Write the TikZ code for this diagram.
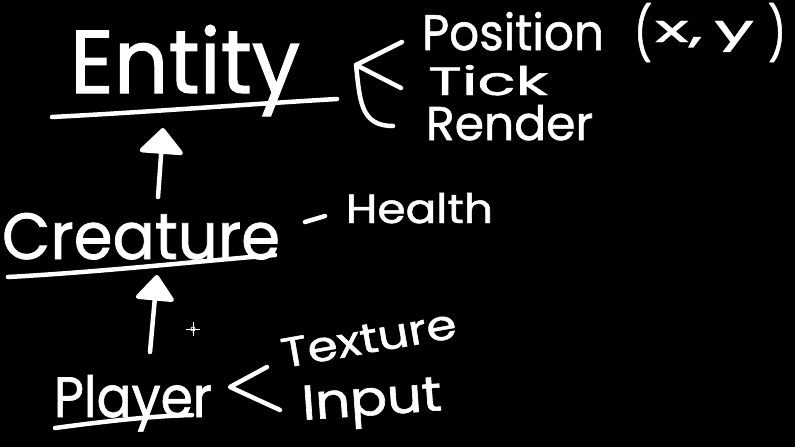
\documentclass[tikz,border=0pt]{standalone}
\usepackage{fontspec}
\setmainfont{Poppins}
\newfontfamily\chalkfont{Poppins}[FakeBold=1.2]
\usepackage{graphicx}
\usetikzlibrary{arrows.meta}
\newcommand{\chalktext}[3]{\resizebox{#1pt}{#2pt}{\chalkfont #3}}
\newcommand{\bigparen}[1]{\raisebox{-20pt}{\resizebox*{18pt}{59pt}{\raisebox{\depth}{\chalkfont #1}}}}
\begin{document}
\begin{tikzpicture}[x=1pt,y=-1pt,
  chalk/.style={draw=white, line width=4.5pt, line cap=round, line join=round},
  word/.style={anchor=base west, inner sep=0pt, outer sep=0pt, text=white},
  bigarrow/.style={chalk, -{Triangle[width=#1, length=27pt, round]}},
  bigarrow/.default=46pt]
\useasboundingbox (0,0) rectangle (795,447);
\fill[black] (0,0) rectangle (795,447);

% main class names
\node[word] (entity)   at (70,93)  {\chalktext{230}{68}{Entity}};
\node[word] (creature) at (2,259)  {\chalktext{278}{46}{Creature}};
\node[word] (player)   at (54,417) {\chalktext{158}{42}{Player}};

% underlines
\coordinate (eu1) at (52,117);  \coordinate (eu2) at (337,99);
\coordinate (cu1) at (8,277);   \coordinate (cu2) at (275,255);
\coordinate (pu1) at (55,428);  \coordinate (pu2) at (192,415);
\draw[chalk] (eu1) .. controls (150,112) and (250,104) .. (eu2);
\draw[chalk] (cu1) .. controls (100,272) and (190,262) .. (cu2);
\draw[chalk] (pu1) .. controls (100,422) and (150,416) .. (pu2);

% inheritance arrows
\coordinate (a1s) at (158,197); \coordinate (a1t) at (163,128);
\coordinate (a2s) at (150,352); \coordinate (a2t) at (157,275);
\draw[bigarrow=48pt] (a1s) -- (a1t);
\draw[bigarrow=42pt] (a2s) -- (a2t);

% Entity members
\coordinate (eb0) at (356,65); \coordinate (eb1) at (402,42);
\coordinate (eb2) at (401,88); \coordinate (eb3) at (393,126);
\draw[chalk] (eb1) -- (eb0) -- (eb2);
\draw[chalk] (eb0) .. controls (360,100) and (360,126) .. (eb3);
\node[word] (position) at (422,50) {\chalktext{182}{38}{Position}};
\node[word] (xy)       at (634,42) {\bigparen{(}\hspace{3pt}\chalktext{99}{21}{x,\,y}\hspace{14pt}\bigparen{)}};
\node[word] (tick)     at (428,95) {\chalktext{120}{30}{Tick}};
\node[word] (render)   at (426,140){\chalktext{167}{35}{Render}};

% Creature member
\coordinate (hd1) at (305,222); \coordinate (hd2) at (325,216);
\draw[chalk] (hd1) -- (hd2);
\node[word] (health) at (346,223) {\chalktext{147}{30}{Health}};

% Player members
\coordinate (pb0) at (230,387); \coordinate (pb1) at (267,367);
\coordinate (pb2) at (280,410);
\draw[chalk] (pb1) -- (pb0) -- (pb2);
\node[word, rotate=10] (texture) at (284,368) {\chalktext{177}{29}{Texture}};
\node[word, rotate=4]  (input)   at (303,420) {\chalktext{140}{34}{Input}};

% mouse cursor
\coordinate (cur) at (193,329);
\draw[white, line width=0.8pt] ([xshift=-7pt]cur) -- ([xshift=7pt]cur)
  ([yshift=-7pt]cur) -- ([yshift=7pt]cur);
\draw[white, line width=0.8pt] (cur) circle (2pt);
\end{tikzpicture}
\end{document}
